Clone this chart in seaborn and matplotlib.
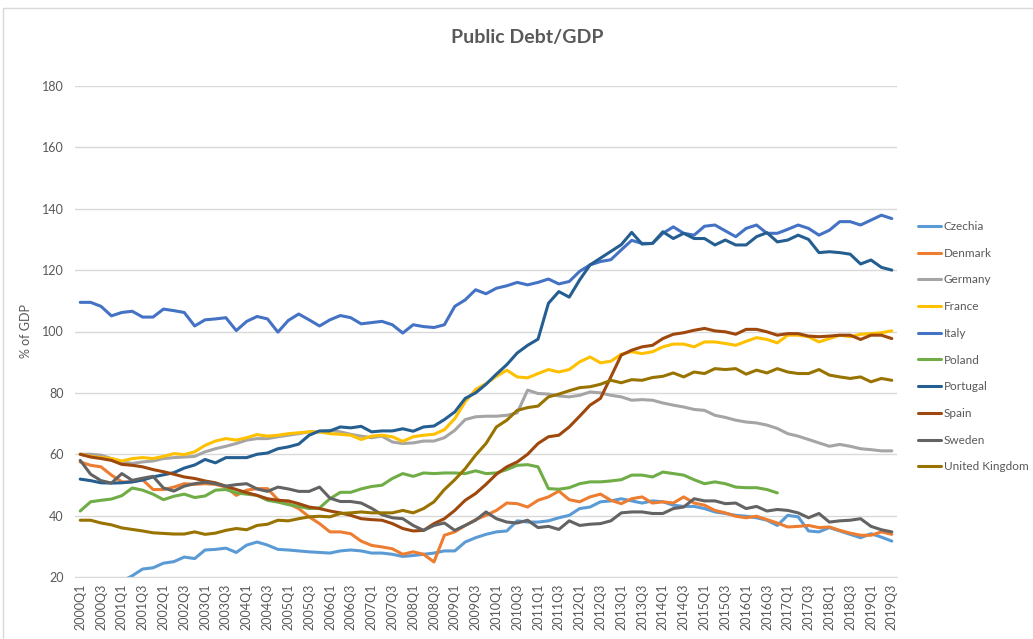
import pandas as pd
import numpy as np
import matplotlib.pyplot as plt
import seaborn as sns
from matplotlib.patches import Rectangle

# Quarterly public debt as % of GDP, 2000Q1 - 2019Q3
quarters = [f'{y}Q{q}' for y in range(2000, 2020) for q in range(1, 5)][:79]

countries = ['Czechia', 'Denmark', 'Germany', 'France', 'Italy',
             'Poland', 'Portugal', 'Spain', 'Sweden', 'United Kingdom']

colors = ['#5B9BD5', '#ED7D31', '#A5A5A5', '#FFC000', '#4472C4',
          '#70AD47', '#255E91', '#9E480E', '#636363', '#997300']

czechia = [17.0, 17.3, 17.6, 18.0, 18.6, 20.4, 22.6, 23.0, 24.5, 25.0, 26.5, 26.0, 28.8, 29.0, 29.4,
           28.0, 30.4, 31.4, 30.4, 29.0, 28.8, 28.5, 28.2, 28.0, 27.8, 28.5, 28.8, 28.5, 27.8,
           27.8, 27.4, 26.7, 27.0, 27.4, 27.8, 28.5, 28.5, 31.4, 32.8, 33.9, 34.7, 35.0, 38.3, 37.9,
           37.9, 38.3, 39.3, 40.1, 42.3, 42.8, 44.5, 44.8, 45.5, 44.8,
           44.1, 44.8, 44.5, 43.4, 43.0, 43.0, 42.3, 41.2, 40.7, 40.1, 39.8, 39.3, 38.5, 36.8, 40.1,
           39.6, 35.0, 34.7, 36.1, 35.0, 33.9, 32.8, 34.1, 33.0, 31.7]

denmark = [57.5, 56.4, 55.9, 53.2, 51.0, 51.0, 51.7, 48.5, 48.5, 49.3, 50.4, 50.2, 50.4, 50.2, 49.3,
           46.6, 48.3, 48.8, 48.8, 45.2, 43.9, 42.3, 39.6, 37.4, 34.7, 34.7, 34.1, 31.7, 30.3,
           29.8, 29.2, 27.4, 28.2, 27.4, 24.9, 33.6, 34.7, 36.8, 38.7, 40.1, 41.7, 44.1, 43.9, 42.8,
           45.0, 46.1, 48.0, 45.2, 44.5, 46.1, 47.0, 45.0, 43.9, 45.5,
           46.1, 44.1, 44.5, 44.1, 46.1, 44.1, 43.4, 41.7, 40.9, 39.8, 39.3, 39.8, 38.7, 37.6, 36.3,
           36.5, 36.8, 36.1, 36.3, 35.2, 34.3, 33.6, 33.6, 34.7, 33.9]

germany = [60.0, 60.0, 59.7, 58.6, 57.5, 57.0, 57.5, 57.8, 58.6, 58.9, 59.1, 59.3, 60.8, 61.8, 62.6,
           63.5, 64.6, 65.1, 65.1, 65.7, 66.2, 66.7, 67.3, 67.3, 67.8, 67.3, 66.5, 65.9, 65.4,
           65.9, 64.0, 63.5, 63.7, 64.3, 64.3, 65.4, 67.8, 71.3, 72.2, 72.4, 72.4, 72.7, 73.5, 80.9,
           79.8, 79.6, 79.0, 78.7, 79.2, 80.3, 80.0, 79.2, 78.7, 77.6,
           77.8, 77.6, 76.7, 76.0, 75.4, 74.6, 74.3, 72.7, 72.0, 71.1, 70.5, 70.2, 69.5, 68.4, 66.7,
           65.9, 64.8, 63.7, 62.6, 63.2, 62.6, 61.8, 61.5, 61.1, 61.1]

france = [60.0, 59.3, 58.9, 58.6, 57.8, 58.6, 58.9, 58.6, 59.3, 60.2, 59.9, 60.8, 62.9, 64.3, 65.1,
          64.6, 65.4, 66.4, 65.9, 66.2, 66.7, 67.0, 67.3, 67.3, 66.7, 66.5, 66.2, 64.8, 65.9,
          66.2, 65.7, 64.2, 65.7, 66.2, 66.5, 68.0, 71.6, 77.1, 81.1, 83.0, 85.4, 87.4, 85.2, 84.9,
          86.3, 87.6, 86.8, 87.6, 90.1, 91.7, 89.8, 90.3, 92.6, 93.4,
          92.8, 93.4, 95.0, 95.9, 95.9, 95.0, 96.6, 96.6, 96.1, 95.5, 96.8, 98.0, 97.4, 96.3, 98.8,
          98.8, 98.3, 96.6, 97.7, 98.8, 98.3, 99.1, 99.3, 99.6, 100.2]

italy = [109.5, 109.5, 108.2, 105.1, 106.2, 106.6, 104.7, 104.7, 107.3, 106.8, 106.2, 101.8, 103.8,
         104.1, 104.5, 100.3, 103.3, 104.9, 104.1, 99.8, 103.6, 105.7, 103.8, 101.8, 103.8, 105.2,
         104.5, 102.5, 102.9,
         103.3, 102.2, 99.5, 102.2, 101.6, 101.3, 102.2, 108.2, 110.3, 113.6, 112.3, 114.1, 114.9,
         116.0, 115.2, 116.0, 117.1, 115.5, 116.3, 119.6, 121.7, 122.8, 123.4, 126.6, 129.7,
         128.7, 128.7, 132.0, 134.1, 132.0, 131.4, 134.3, 134.7, 132.8, 130.9, 133.6, 134.7, 132.0,
         132.0, 133.3, 134.7, 133.6, 131.4, 133.0, 135.8, 135.8, 134.7, 136.3, 137.9, 136.8]

poland = [41.5, 44.5, 45.0, 45.4, 46.5, 49.0, 48.3, 47.0, 45.2, 46.3, 47.0, 45.9, 46.4, 48.3, 48.5,
          47.4, 47.0, 46.6, 45.0, 44.4, 43.6, 43.0, 42.3, 42.5, 45.5, 47.6, 47.6, 48.7, 49.5,
          49.9, 52.1, 53.7, 52.8, 53.9, 53.7, 53.9, 53.9, 53.7, 54.6, 53.7, 53.9, 55.0, 56.4, 56.6,
          55.9, 48.8, 48.6, 49.1, 50.4, 51.0, 51.0, 51.3, 51.7, 53.2,
          53.2, 52.6, 54.2, 53.7, 53.2, 51.7, 50.4, 51.0, 50.4, 49.3, 49.1, 49.1, 48.5, 47.4,
          np.nan, np.nan, np.nan, np.nan, np.nan, np.nan, np.nan, np.nan, np.nan, np.nan, np.nan]

portugal = [51.9, 51.4, 50.7, 50.6, 50.7, 51.0, 51.6, 52.6, 53.3, 54.0, 55.5, 56.5, 58.3, 57.2, 58.9,
            58.9, 58.9, 60.0, 60.4, 61.8, 62.4, 63.3, 66.2, 67.6, 67.6, 68.9, 68.6, 69.1, 67.3,
            67.6, 67.6, 68.3, 67.5, 68.9, 69.2, 71.3, 73.8, 78.2, 80.0, 82.8, 86.1, 89.2, 93.0, 95.5,
            97.5, 109.2, 113.0, 111.2, 116.8, 121.7, 123.9, 126.1, 128.3, 132.3,
            128.5, 128.7, 132.5, 130.3, 132.0, 130.3, 130.3, 128.2, 129.8, 128.2, 128.2, 130.9, 132.2,
            129.2, 129.8, 131.4, 130.0, 125.7, 126.0, 125.7, 125.2, 122.0, 123.3, 120.9, 120.0]

spain = [60.0, 59.1, 58.6, 58.0, 56.7, 56.4, 55.9, 55.0, 54.3, 53.5, 52.6, 52.1, 51.3, 50.7, 49.6,
         48.5, 47.5, 46.6, 45.5, 45.0, 44.8, 43.9, 42.8, 42.3, 41.5, 40.9, 40.1, 39.0, 38.7,
         38.5, 37.4, 35.8, 35.0, 35.2, 37.4, 39.0, 41.7, 45.0, 47.2, 50.2, 53.5, 55.9, 57.5, 60.0,
         63.5, 65.7, 66.2, 68.9, 72.4, 76.0, 78.2, 85.2, 92.3, 93.9,
         95.0, 95.5, 97.7, 99.1, 99.6, 100.4, 101.0, 100.2, 99.9, 99.1, 100.7, 100.7, 99.9, 98.8,
         99.3, 99.3, 98.5, 98.3, 98.5, 98.8, 98.8, 97.4, 98.8, 98.8, 97.7]

sweden = [58.0, 53.5, 51.4, 50.6, 53.7, 51.5, 52.2, 52.8, 49.0, 48.0, 49.6, 50.4, 50.9, 50.4, 49.6,
          50.1, 50.4, 48.7, 47.9, 49.3, 48.7, 47.9, 47.9, 49.3, 45.7, 44.6, 44.6, 44.1, 42.4,
          40.3, 39.3, 39.0, 36.8, 35.2, 36.8, 37.6, 35.2, 36.8, 38.5, 41.2, 39.0, 37.9, 37.6, 38.5,
          36.1, 36.5, 35.5, 38.3, 36.8, 37.2, 37.4, 38.3, 40.9, 41.2,
          41.2, 40.7, 40.7, 42.3, 42.8, 45.5, 44.8, 44.8, 43.9, 44.1, 42.3, 43.0, 41.5, 42.0, 41.7,
          40.9, 39.3, 40.7, 37.9, 38.3, 38.5, 39.0, 36.5, 35.4, 34.7]

uk = [38.5, 38.5, 37.6, 37.0, 36.0, 35.5, 35.0, 34.4, 34.2, 34.0, 34.0, 34.7, 33.9, 34.3, 35.2,
      35.8, 35.4, 36.8, 37.2, 38.5, 38.3, 39.0, 39.6, 39.8, 39.6, 40.7, 40.9, 41.2, 40.9,
      40.9, 40.9, 41.7, 40.9, 42.3, 44.5, 48.5, 51.7, 55.3, 59.7, 63.5, 68.9, 71.1, 74.3, 75.2,
      75.7, 78.7, 79.6, 80.7, 81.7, 82.0, 82.8, 84.1, 83.3, 84.3,
      84.1, 85.0, 85.4, 86.5, 85.2, 86.8, 86.3, 87.9, 87.6, 87.9, 86.1, 87.4, 86.5, 87.9, 86.8,
      86.3, 86.3, 87.6, 85.8, 85.2, 84.7, 85.2, 83.6, 84.7, 84.1]

series = [czechia, denmark, germany, france, italy, poland, portugal, spain, sweden, uk]
df = pd.DataFrame(dict(zip(countries, series)))
df['quarter'] = range(len(quarters))
long_df = df.melt(id_vars='quarter', var_name='country', value_name='debt')

sns.set_style('white')
plt.rcParams['font.family'] = ['Lato', 'DejaVu Sans']

text_color = '#595959'
grid_color = '#D9D9D9'

fig = plt.figure(figsize=(10.33, 6.39), dpi=100)
ax = fig.add_axes([75 / 1033, 1 - 577 / 639, 822 / 1033, 491 / 639])

sns.lineplot(data=long_df, x='quarter', y='debt', hue='country', hue_order=countries,
             palette=dict(zip(countries, colors)), linewidth=2.2, errorbar=None, ax=ax)

ax.set_xlim(-0.5, len(quarters) - 0.5)
ax.set_ylim(20, 180)
ax.set_xticks(range(0, len(quarters), 2))
ax.set_xticklabels(quarters[::2], rotation=90, fontsize=9, color=text_color)
ax.set_yticks(range(20, 181, 20))
ax.tick_params(axis='y', labelsize=9, labelcolor=text_color, length=0, pad=8)
ax.tick_params(axis='x', length=0, pad=5)
ax.grid(axis='y', color=grid_color, linewidth=1)
ax.set_axisbelow(True)
for side in ['top', 'right', 'left']:
    ax.spines[side].set_visible(False)
ax.spines['bottom'].set_color(grid_color)

ax.set_xlabel('')
ax.set_ylabel('% of GDP', fontsize=9, color=text_color)
ax.yaxis.set_label_coords(-0.052, 0.5)

handles, labels = ax.get_legend_handles_labels()
ax.legend(handles, labels, loc='upper left', bbox_to_anchor=(1.018, 0.737), frameon=False,
          fontsize=8.5, labelcolor=text_color, handlelength=2.0, handletextpad=0.2,
          labelspacing=1.33, borderpad=0)

fig.text(0.51, 1 - 38 / 639, 'Public Debt/GDP', ha='center', va='center',
         fontsize=14, fontweight='bold', color=text_color)

# thin chart border like the spreadsheet frame
fig.patches.append(Rectangle((3 / 1033, -0.05), 1.2, 1 - 8 / 639 + 0.05,
                             transform=fig.transFigure, fill=False,
                             edgecolor=grid_color, linewidth=1))

fig.savefig('out.png', dpi=100)
